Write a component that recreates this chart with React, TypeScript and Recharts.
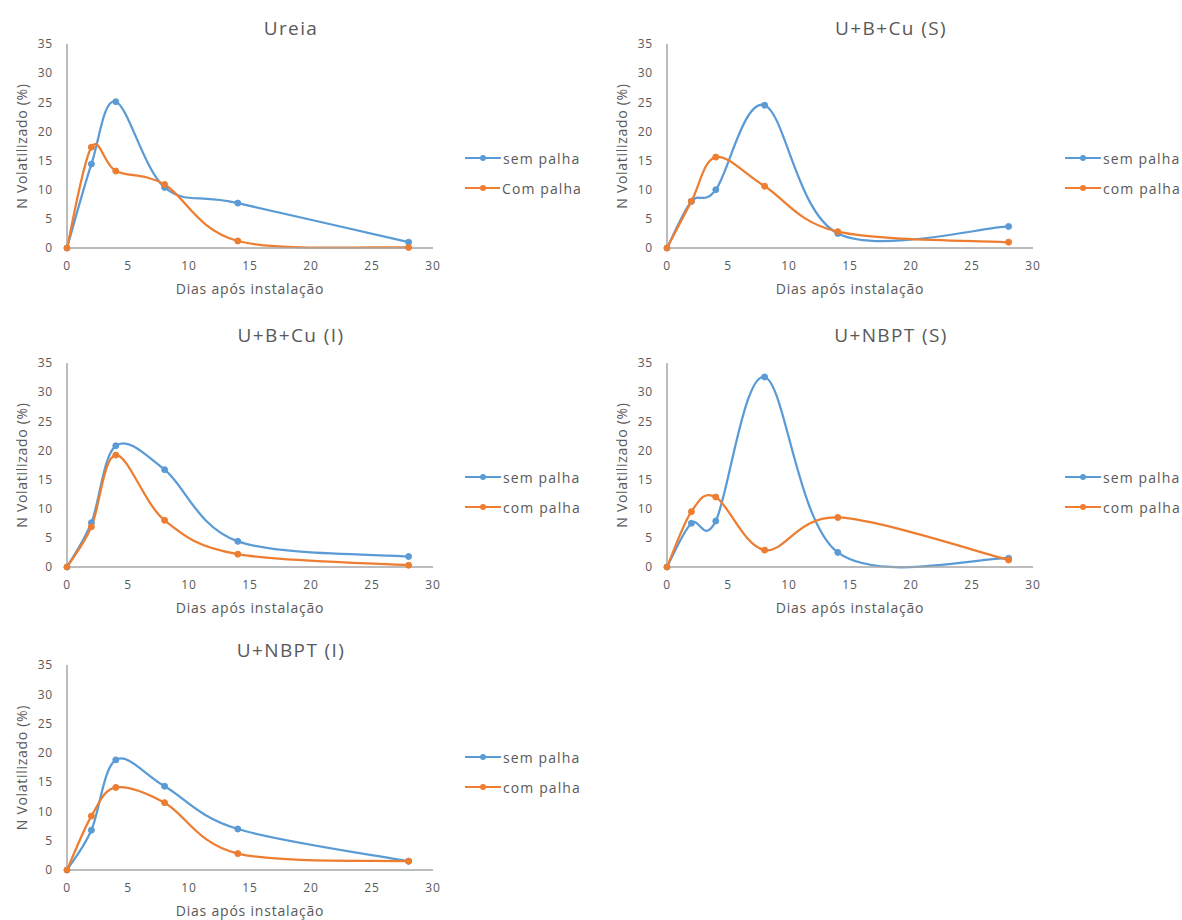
import React from 'react';
import { LineChart, Line, XAxis, YAxis, Legend } from 'recharts';

// dias após instalação (eixo x)
const days = [0, 2, 4, 8, 14, 28];
const xTicks = [0, 5, 10, 15, 20, 25, 30];
const yTicks = [0, 5, 10, 15, 20, 25, 30, 35];

// N volatilizado (%) por tratamento
const ureiaSem = [0, 14.4, 25.1, 10.4, 7.7, 1.0];
const ureiaCom = [0, 17.3, 13.2, 10.9, 1.2, 0.1];
const bcuSSem = [0, 8.0, 10.0, 24.5, 2.5, 3.7];
const bcuSCom = [0, 8.0, 15.6, 10.6, 2.8, 1.0];
const bcuISem = [0, 7.6, 20.8, 16.7, 4.4, 1.8];
const bcuICom = [0, 6.9, 19.2, 8.0, 2.2, 0.3];
const nbptSSem = [0, 7.5, 7.9, 32.6, 2.5, 1.5];
const nbptSCom = [0, 9.5, 12.0, 2.9, 8.5, 1.2];
const nbptISem = [0, 6.8, 18.8, 14.3, 7.0, 1.5];
const nbptICom = [0, 9.2, 14.1, 11.5, 2.8, 1.5];

const BLUE = '#5B9BD5';
const ORANGE = '#ED7D31';
const TEXT = '#595959';
const AXIS = '#a6a6a6';
const FONT = '"Open Sans", sans-serif';

// Excel-like smoothed line (Catmull-Rom as bezier)
const smoothCurve: any = (context: any) => {
  let pts: number[][] = [];
  return {
    areaStart() {},
    areaEnd() {},
    lineStart() {
      pts = [];
    },
    point(x: number, y: number) {
      pts.push([+x, +y]);
    },
    lineEnd() {
      const n = pts.length;
      if (!n) return;
      context.moveTo(pts[0][0], pts[0][1]);
      for (let i = 0; i < n - 1; i++) {
        const p0 = pts[Math.max(i - 1, 0)];
        const p1 = pts[i];
        const p2 = pts[i + 1];
        const p3 = pts[Math.min(i + 2, n - 1)];
        context.bezierCurveTo(
          p1[0] + (p2[0] - p0[0]) / 6,
          p1[1] + (p2[1] - p0[1]) / 6,
          p2[0] - (p3[0] - p1[0]) / 6,
          p2[1] - (p3[1] - p1[1]) / 6,
          p2[0],
          p2[1]
        );
      }
    },
  };
};

const rows = [
  { plotTop: 44, plotH: 204, titleY: 28, legendY: 158 },
  { plotTop: 363, plotH: 204, titleY: 335, legendY: 477 },
  { plotTop: 665, plotH: 205, titleY: 650, legendY: 757 },
];

const makeLegend = (comName: string) => () => (
  <div style={{ fontFamily: FONT }}>
    {[
      { name: 'sem palha', color: BLUE },
      { name: comName, color: ORANGE },
    ].map((item) => (
      <div key={item.name} style={{ height: 30, display: 'flex', alignItems: 'center', whiteSpace: 'nowrap' }}>
        <svg width={36} height={10} style={{ marginRight: 2 }}>
          <line x1={0} y1={5} x2={36} y2={5} stroke={item.color} strokeWidth={2} />
          <circle cx={18} cy={5} r={3} fill={item.color} />
        </svg>
        <span style={{ fontSize: 14, color: TEXT, letterSpacing: 1.1 }}>{item.name}</span>
      </div>
    ))}
  </div>
);

interface PanelProps {
  title: string;
  sem: number[];
  com: number[];
  comName: string;
  col: number;
  row: number;
}

const Panel = ({ title, sem, com, comName, col, row }: PanelProps) => {
  const r = rows[row];
  const left = col * 600;
  const boxTop = r.plotTop - 40;
  const data = days.map((d, i) => ({ dia: d, sem: sem[i], com: com[i] }));

  return (
    <>
      <div
        style={{
          position: 'absolute',
          left: left + 141,
          top: r.titleY - 13,
          width: 300,
          textAlign: 'center',
          fontFamily: FONT,
          fontSize: 19,
          lineHeight: '26px',
          letterSpacing: 1.4,
          color: TEXT,
        }}
      >
        {title}
      </div>
      <div style={{ position: 'absolute', left, top: boxTop }}>
        <LineChart
          width={582}
          height={r.plotH + 90}
          data={data}
          margin={{ top: 40, right: 149, bottom: 20, left: 0 }}
        >
          <XAxis
            type="number"
            dataKey="dia"
            domain={[0, 30]}
            ticks={xTicks}
            height={30}
            stroke={AXIS}
            strokeWidth={1.5}
            tickLine={false}
            tickSize={0}
            tickMargin={13}
            tick={{ fill: TEXT, fontSize: 12, fontFamily: FONT, letterSpacing: 0.8 }}
            label={{
              value: 'Dias após instalação',
              position: 'bottom',
              offset: 6,
              fill: TEXT,
              fontSize: 14,
              fontFamily: FONT,
              letterSpacing: 0.8,
            }}
          />
          <YAxis
            type="number"
            domain={[0, 35]}
            ticks={yTicks}
            width={67}
            stroke={AXIS}
            strokeWidth={1.5}
            tickLine={false}
            tickSize={0}
            tickMargin={14}
            tick={{ fill: TEXT, fontSize: 12, fontFamily: FONT, letterSpacing: 0.8 }}
            label={{
              value: 'N Volatilizado (%)',
              angle: -90,
              position: 'insideLeft',
              offset: 22,
              fill: TEXT,
              fontSize: 14,
              fontFamily: FONT,
              letterSpacing: 0.7,
              style: { textAnchor: 'middle' },
            }}
          />
          <Legend
            layout="vertical"
            align="center"
            verticalAlign="middle"
            content={makeLegend(comName)}
            wrapperStyle={{ left: 465, top: r.legendY - 15 - boxTop, width: 117 }}
          />
          <Line
            name="sem palha"
            dataKey="sem"
            type={smoothCurve}
            stroke={BLUE}
            strokeWidth={2.25}
            dot={{ r: 3, fill: BLUE, stroke: BLUE, strokeWidth: 1 }}
            activeDot={false}
            isAnimationActive={false}
          />
          <Line
            name={comName}
            dataKey="com"
            type={smoothCurve}
            stroke={ORANGE}
            strokeWidth={2.25}
            dot={{ r: 3, fill: ORANGE, stroke: ORANGE, strokeWidth: 1 }}
            activeDot={false}
            isAnimationActive={false}
          />
        </LineChart>
      </div>
    </>
  );
};

export default function App() {
  return (
    <div>
      <style>{'body { margin: 0; overflow: hidden; }'}</style>
      <Panel title="Ureia" sem={ureiaSem} com={ureiaCom} comName="Com palha" col={0} row={0} />
      <Panel title="U+B+Cu (S)" sem={bcuSSem} com={bcuSCom} comName="com palha" col={1} row={0} />
      <Panel title="U+B+Cu (I)" sem={bcuISem} com={bcuICom} comName="com palha" col={0} row={1} />
      <Panel title="U+NBPT (S)" sem={nbptSSem} com={nbptSCom} comName="com palha" col={1} row={1} />
      <Panel title="U+NBPT (I)" sem={nbptISem} com={nbptICom} comName="com palha" col={0} row={2} />
    </div>
  );
}
